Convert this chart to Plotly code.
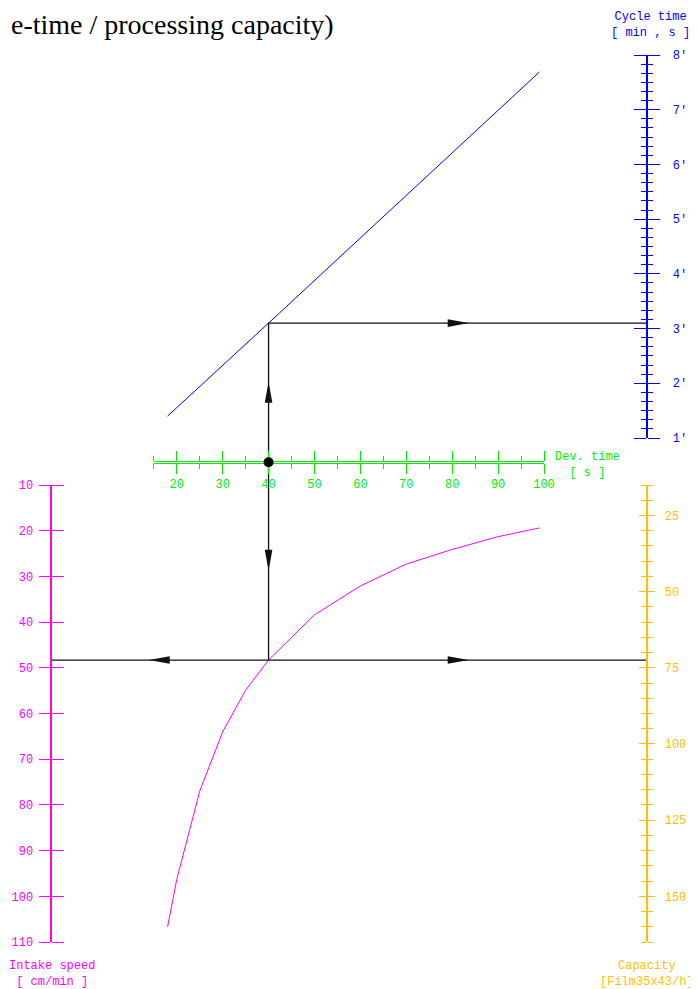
import numpy as np
import plotly.graph_objects as go

# values
dev_time_line = [18, 40, 99]            # s
cycle_time = [1.40, 3.10, 7.69]         # min
dev_time_curve = [18, 20, 25, 30, 35, 40, 50, 60, 70, 80, 90, 99]
intake_speed = [106.7, 96.3, 77.0, 64.0, 54.9, 48.3, 38.4, 32.1, 27.3, 24.1, 21.3, 19.4]  # cm/min

dev_ticks = [20, 30, 40, 50, 60, 70, 80, 90, 100]
cycle_ticks = [1, 2, 3, 4, 5, 6, 7, 8]
cycle_labels = ["1'", "2'", "3'", "4'", "5'", "6'", "7'", "8'"]
speed_ticks = [10, 20, 30, 40, 50, 60, 70, 80, 90, 100, 110]
capacity_ticks = [25, 50, 75, 100, 125, 150]
capacity_per_speed = 1.5   # Film35x43/h per cm/min

selected_dev_time = 40

# the page body keeps its default 8px margin, the figure starts there
PAGE = 8
W, H = 698 - PAGE, 989 - PAGE
GREEN = '#00ee00'
BLUE = '#0000ff'
MAGENTA = '#ff00ff'
ORANGE = '#ffbf00'
INK = '#111111'
FONT = 'Liberation Mono'

# where each scale sits on the page (pixels)
DEV_PX = (153.8, 544.0)      # 15 s .. 100 s
DEV_RANGE = (15, 100)
GREEN_Y = 462.5
CYCLE_PY = (438.0, 55.0)     # 1' .. 8'
CYCLE_RANGE = (1, 8)
RIGHT_X = 647.3
SPEED_PY = (485.0, 942.0)    # 10 .. 110
SPEED_RANGE = (10, 110)
LEFT_X = 51.0


def fx(px):
    return (px - PAGE) / W


def fy(py):
    return 1 - (py - PAGE) / H


def lin(v_range, p_range):
    k = (p_range[1] - p_range[0]) / (v_range[1] - v_range[0])
    return (lambda p: v_range[0] + (p - p_range[0]) / k), k


dev_at, kx = lin(DEV_RANGE, DEV_PX)
cyc_at, kc = lin(CYCLE_RANGE, CYCLE_PY)
spd_at, ks = lin(SPEED_RANGE, SPEED_PY)

cycle_sel = float(np.interp(selected_dev_time, dev_time_line, cycle_time))
speed_sel = float(np.interp(selected_dev_time, dev_time_curve, intake_speed))
speed_sel_py = SPEED_PY[0] + (speed_sel - SPEED_RANGE[0]) * ks


def arrow(tip_x, tip_y, ux, uy, kx_, ky_, length=21, half=3.8):
    # ux, uy: direction on screen (uy > 0 is downwards)
    bx, by = -ux * length, -uy * length
    px_, py_ = -uy * half, ux * half
    pts = [(0, 0), (bx + px_, by + py_), (bx - px_, by - py_), (0, 0)]
    xs = [tip_x + dx / kx_ for dx, dy in pts]
    ys = [tip_y + dy / ky_ for dx, dy in pts]
    return xs + [None], ys + [None]


fig = go.Figure()

# cycle time line
fig.add_trace(go.Scatter(x=dev_time_line, y=cycle_time, mode='lines',
                         line=dict(color=BLUE, width=1), xaxis='x', yaxis='y'))
# intake speed curve
fig.add_trace(go.Scatter(x=dev_time_curve, y=intake_speed, mode='lines',
                         line=dict(color=MAGENTA, width=1), xaxis='x', yaxis='y6'))

# guide lines
fig.add_trace(go.Scatter(
    x=[dev_at(RIGHT_X), selected_dev_time, selected_dev_time],
    y=[cycle_sel, cycle_sel, cyc_at(speed_sel_py)],
    mode='lines', line=dict(color=INK, width=1.3), xaxis='x', yaxis='y'))
fig.add_trace(go.Scatter(
    x=[dev_at(LEFT_X), dev_at(RIGHT_X)], y=[speed_sel, speed_sel],
    mode='lines', line=dict(color=INK, width=1.3), xaxis='x', yaxis='y6'))

# arrow heads
ax_, ay_ = [], []
for xs, ys in [arrow(selected_dev_time, 2.03, 0, -1, kx, kc),
               arrow(83.6, cycle_sel, 1, 0, kx, kc)]:
    ax_ += xs
    ay_ += ys
fig.add_trace(go.Scatter(x=ax_, y=ay_, mode='lines', fill='toself', fillcolor=INK,
                         line=dict(width=0, color=INK), xaxis='x', yaxis='y'))
ax_, ay_ = [], []
for xs, ys in [arrow(selected_dev_time, 28.75, 0, 1, kx, ks),
               arrow(13.9, speed_sel, -1, 0, kx, ks),
               arrow(83.6, speed_sel, 1, 0, kx, ks)]:
    ax_ += xs
    ay_ += ys
fig.add_trace(go.Scatter(x=ax_, y=ay_, mode='lines', fill='toself', fillcolor=INK,
                         line=dict(width=0, color=INK), xaxis='x', yaxis='y6'))

# selected point on the dev. time scale
fig.add_trace(go.Scatter(x=[selected_dev_time], y=[0], mode='markers', cliponaxis=False,
                         marker=dict(color='black', size=10), xaxis='x2', yaxis='y2'))
# anchors for the other scales
for xa, ya, yv in [('x3', 'y3', 1), ('x4', 'y4', 10), ('x5', 'y5', 15)]:
    fig.add_trace(go.Scatter(x=[0], y=[yv], mode='markers', marker=dict(opacity=0),
                             xaxis=xa, yaxis=ya))

fig.update_traces(hoverinfo='skip', showlegend=False)

hidden = dict(visible=False, showgrid=False, zeroline=False, fixedrange=True, automargin=False)
thin = 0.0004


def scale(color, ticklen, **kw):
    d = dict(showline=True, linecolor=color, linewidth=1, ticks='outside', ticklen=ticklen,
             tickcolor=color, tickwidth=1, mirror='ticks', showgrid=False, zeroline=False,
             tickfont=dict(family=FONT, size=12, color=color), fixedrange=True,
             automargin=False, layer='below traces')
    d.update(kw)
    return d


fig.update_layout(
    width=W, height=H, margin=dict(l=0, r=0, t=0, b=0, pad=0, autoexpand=False),
    paper_bgcolor='white', plot_bgcolor='white', showlegend=False, hovermode=False,
    font=dict(family=FONT, size=12),
    xaxis=dict(domain=[0, 1], range=[dev_at(PAGE), dev_at(PAGE + W)], anchor='y', **hidden),
    yaxis=dict(domain=[0, 1], range=[cyc_at(PAGE + H), cyc_at(PAGE)], anchor='x', **hidden),
    yaxis6=dict(overlaying='y', range=[spd_at(PAGE + H), spd_at(PAGE)], anchor='x', **hidden),
    # dev. time scale
    xaxis2=scale(GREEN, 10.5, domain=[fx(DEV_PX[0]), fx(DEV_PX[1])], range=list(DEV_RANGE),
                 anchor='y2', side='bottom', tickvals=dev_ticks,
                 minor=dict(tick0=15, dtick=10, ticks='outside', ticklen=5.5,
                            tickcolor=GREEN, showgrid=False)),
    yaxis2=dict(domain=[fy(GREEN_Y), fy(GREEN_Y) + thin], range=[-1, 1], anchor='x2', **hidden),
    # cycle time scale
    xaxis3=dict(domain=[fx(RIGHT_X) - thin, fx(RIGHT_X)], range=[-1, 1], anchor='y3', **hidden),
    yaxis3=scale(BLUE, 12, domain=[fy(CYCLE_PY[0]), fy(CYCLE_PY[1])], range=list(CYCLE_RANGE),
                 anchor='x3', side='right', tickvals=cycle_ticks, ticktext=cycle_labels,
                 ticklabelstandoff=10,
                 minor=dict(tick0=1, dtick=1 / 6, ticks='outside', ticklen=5,
                            tickcolor=BLUE, showgrid=False)),
    # intake speed scale
    xaxis4=dict(domain=[fx(LEFT_X), fx(LEFT_X) + thin], range=[-1, 1], anchor='y4', **hidden),
    yaxis4=scale(MAGENTA, 11.5, domain=[fy(SPEED_PY[1]), fy(SPEED_PY[0])],
                 range=[SPEED_RANGE[1], SPEED_RANGE[0]], anchor='x4', side='left',
                 tickvals=speed_ticks, ticklabelstandoff=3),
    # capacity scale
    xaxis5=dict(domain=[fx(RIGHT_X) - thin, fx(RIGHT_X)], range=[-1, 1], anchor='y5', **hidden),
    yaxis5=scale(ORANGE, 7, domain=[fy(SPEED_PY[1]), fy(SPEED_PY[0])],
                 range=[SPEED_RANGE[1] * capacity_per_speed, SPEED_RANGE[0] * capacity_per_speed],
                 anchor='x5', side='right', tickvals=capacity_ticks, ticklabelstandoff=7,
                 minor=dict(tick0=15, dtick=5, ticks='outside', ticklen=4.7,
                            tickcolor=ORANGE, showgrid=False)),
)

labels = [
    ("Cycle time<br>[ min , s ]", 650, 25, BLUE),
    ("Dev. time<br>[ s ]", 587, 464.5, GREEN),
    ("Intake speed<br>[ cm/min ]", 52, 974, MAGENTA),
    ("Capacity<br>[Film35x43/h]", 647, 974, ORANGE),
]
for text, x, y, color in labels:
    fig.add_annotation(text=text, x=fx(x), y=fy(y), xref='paper', yref='paper',
                       xanchor='center', yanchor='middle', showarrow=False, borderpad=0,
                       font=dict(family=FONT, size=12, color=color))

fig.add_annotation(text="e-time / processing capacity)", x=fx(PAGE + 2), y=fy(25), xref='paper',
                   yref='paper', xanchor='left', yanchor='middle', showarrow=False, borderpad=0,
                   font=dict(family='Liberation Serif', size=28, color='black'))

fig.write_html("out.html")
